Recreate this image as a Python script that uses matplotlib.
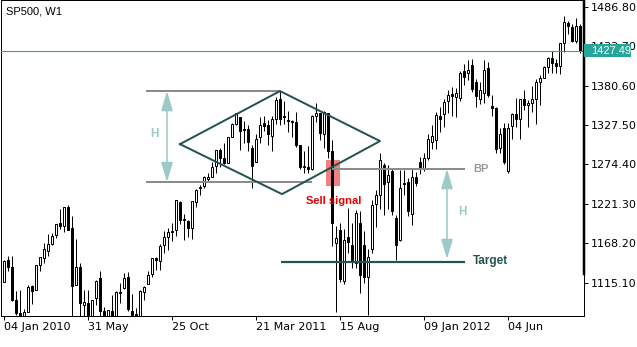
import matplotlib
matplotlib.use('Agg')
import matplotlib.pyplot as plt
import matplotlib.transforms as mtransforms
from matplotlib.patches import Rectangle
from matplotlib.patches import ArrowStyle
import numpy as np

# ---------------- data (weekly SP500 candles, 04 Jan 2010 .. 08 Oct 2012) ----------------
opens = [
    1116.6, 1146.0, 1136.0, 1092.4, 1073.9, 1065.5, 1076.0, 1110.0, 1105.4, 1138.4,
    1148.5, 1157.3, 1167.7, 1178.7, 1194.9, 1192.1, 1217.1, 1188.6, 1111.5, 1136.5,
    1084.8, 1087.3, 1065.8, 1095.0, 1121.3, 1077.5, 1028.1, 1077.2, 1066.9, 1102.9,
    1107.5, 1122.8, 1077.5, 1073.4, 1062.9, 1102.6, 1113.4, 1126.6, 1148.6, 1145.0,
    1165.3, 1176.8, 1184.7, 1185.7, 1223.2, 1200.4, 1198.1, 1189.1, 1223.9, 1242.5,
    1245.8, 1254.7, 1257.6, 1272.0, 1293.2, 1283.3, 1276.5, 1311.9, 1328.7, 1338.9,
    1321.6, 1322.7, 1297.0, 1277.0, 1311.0, 1330.0, 1327.0, 1312.0, 1335.0, 1363.0,
    1340.2, 1334.8, 1333.1, 1331.1, 1300.3, 1271.3, 1271.5, 1268.4, 1339.6, 1343.3,
    1315.9, 1344.3, 1292.6, 1169.0, 1186.0, 1117.0, 1176.0, 1166.0, 1142.0, 1196.0,
    1166.0, 1123.0, 1161.0, 1221.0, 1233.0, 1274.0, 1251.0, 1266.0, 1202.0, 1173.0,
    1250.0, 1251.0, 1208.0, 1258.0, 1278.0, 1268.0, 1283.0, 1305.0, 1307.0, 1339.0,
    1342.0, 1360.0, 1369.0, 1365.0, 1364.0, 1400.0, 1397.0, 1408.0, 1386.0, 1363.0,
    1371.0, 1404.0, 1353.0, 1350.0, 1296.0, 1324.0, 1265.0, 1325.7, 1342.4, 1334.9,
    1362.3, 1354.7, 1356.5, 1362.3, 1385.9, 1391.0, 1405.9, 1417.9, 1411.1, 1406.5,
    1437.9, 1465.4, 1459.8, 1440.9, 1460.9]
highs = [
    1145.4, 1150.5, 1150.4, 1103.7, 1104.7, 1080.0, 1112.4, 1112.3, 1139.4, 1150.2,
    1169.2, 1180.2, 1181.4, 1194.7, 1213.9, 1217.3, 1219.8, 1205.1, 1173.6, 1141.9,
    1105.0, 1105.7, 1092.2, 1119.3, 1131.2, 1082.6, 1078.2, 1099.1, 1103.7, 1115.0,
    1128.8, 1129.2, 1100.1, 1081.6, 1105.1, 1110.9, 1131.5, 1148.9, 1149.9, 1167.7,
    1184.4, 1189.4, 1196.1, 1227.1, 1225.8, 1207.4, 1198.9, 1225.6, 1241.0, 1246.7,
    1259.4, 1262.6, 1278.2, 1293.2, 1296.1, 1302.7, 1311.0, 1330.8, 1344.1, 1338.9,
    1332.3, 1327.7, 1301.2, 1315.8, 1337.9, 1339.5, 1333.8, 1339.4, 1364.6, 1373.0,
    1359.4, 1346.8, 1334.6, 1345.2, 1300.3, 1292.5, 1298.6, 1341.0, 1356.5, 1343.3,
    1347.0, 1344.3, 1307.4, 1191.0, 1195.0, 1188.0, 1216.0, 1195.0, 1213.0, 1211.0,
    1185.0, 1160.0, 1226.0, 1240.0, 1290.0, 1276.0, 1274.0, 1268.0, 1206.0, 1267.0,
    1267.0, 1256.0, 1269.0, 1264.0, 1285.0, 1290.0, 1316.0, 1327.0, 1345.0, 1352.0,
    1363.0, 1375.0, 1378.0, 1377.0, 1400.0, 1410.0, 1415.0, 1417.0, 1390.0, 1385.0,
    1415.0, 1413.0, 1368.0, 1352.0, 1324.0, 1330.0, 1330.0, 1343.3, 1363.5, 1362.2,
    1374.8, 1361.5, 1380.4, 1389.2, 1394.2, 1407.1, 1418.7, 1426.7, 1416.2, 1437.9,
    1474.5, 1467.1, 1463.2, 1471.0, 1464.0]
lows = [
    1116.6, 1131.4, 1090.2, 1071.6, 1044.5, 1056.5, 1076.0, 1086.0, 1105.4, 1131.1,
    1141.1, 1150.5, 1165.8, 1175.1, 1186.8, 1183.7, 1185.5, 1065.8, 1111.5, 1055.9,
    1040.8, 1060.5, 1042.2, 1084.8, 1067.9, 1010.9, 1018.4, 1063.3, 1056.9, 1088.0,
    1107.2, 1076.6, 1070.0, 1039.7, 1040.9, 1091.2, 1113.4, 1122.8, 1131.9, 1131.9,
    1155.7, 1159.7, 1171.7, 1177.7, 1194.1, 1173.0, 1176.9, 1173.6, 1217.4, 1232.9,
    1243.0, 1251.5, 1257.6, 1262.2, 1271.3, 1275.1, 1276.5, 1311.7, 1326.9, 1294.3,
    1302.6, 1292.0, 1243.0, 1277.0, 1303.0, 1320.0, 1300.0, 1292.0, 1329.0, 1327.0,
    1329.0, 1318.5, 1311.8, 1297.9, 1268.5, 1262.7, 1262.9, 1267.5, 1330.9, 1307.1,
    1295.9, 1282.9, 1164.0, 1076.0, 1116.0, 1113.0, 1155.0, 1135.0, 1135.0, 1101.0,
    1115.0, 1071.0, 1155.0, 1190.0, 1215.0, 1206.0, 1215.0, 1206.0, 1146.0, 1171.0,
    1233.0, 1205.0, 1193.0, 1245.0, 1262.0, 1266.0, 1281.0, 1295.0, 1295.0, 1318.0,
    1325.0, 1343.0, 1339.0, 1338.0, 1360.0, 1382.0, 1388.0, 1372.0, 1352.0, 1356.0,
    1357.0, 1365.0, 1340.0, 1290.0, 1290.0, 1275.0, 1263.0, 1308.0, 1324.4, 1309.3,
    1348.0, 1325.4, 1345.1, 1329.2, 1354.7, 1391.0, 1397.3, 1398.0, 1397.0, 1396.6,
    1425.5, 1450.0, 1439.9, 1438.1, 1425.0]
closes = [
    1145.0, 1136.0, 1091.8, 1073.9, 1066.2, 1075.5, 1109.2, 1104.5, 1138.7, 1150.0,
    1159.9, 1166.6, 1178.1, 1194.4, 1192.1, 1217.3, 1186.7, 1110.9, 1135.7, 1087.7,
    1089.4, 1064.9, 1091.6, 1117.5, 1076.8, 1022.6, 1078.0, 1064.9, 1102.7, 1101.6,
    1121.6, 1079.3, 1071.7, 1064.6, 1104.5, 1109.6, 1125.6, 1148.7, 1146.2, 1165.2,
    1176.2, 1183.1, 1183.3, 1225.9, 1199.2, 1199.7, 1189.4, 1224.7, 1240.4, 1243.9,
    1256.8, 1257.6, 1271.5, 1293.2, 1283.4, 1276.3, 1310.9, 1329.2, 1343.0, 1319.9,
    1321.2, 1304.3, 1272.0, 1308.0, 1328.0, 1326.0, 1315.0, 1335.0, 1361.0, 1336.0,
    1337.8, 1333.3, 1331.1, 1300.2, 1271.0, 1271.5, 1268.5, 1339.7, 1343.8, 1316.1,
    1345.0, 1292.3, 1196.0, 1175.0, 1120.0, 1173.0, 1170.0, 1146.0, 1209.0, 1125.0,
    1123.0, 1150.0, 1220.0, 1233.0, 1280.0, 1248.0, 1260.0, 1212.0, 1166.0, 1242.0,
    1248.0, 1211.0, 1258.0, 1250.0, 1271.0, 1283.0, 1309.0, 1313.0, 1341.0, 1336.0,
    1359.0, 1368.0, 1366.0, 1370.0, 1397.0, 1392.0, 1402.0, 1376.0, 1366.0, 1375.0,
    1402.0, 1368.0, 1351.0, 1295.0, 1316.0, 1278.0, 1324.0, 1342.8, 1335.0, 1362.2,
    1354.7, 1356.8, 1362.7, 1386.0, 1391.0, 1405.9, 1418.2, 1411.1, 1406.6, 1437.9,
    1465.8, 1460.2, 1440.7, 1460.9, 1427.5]

xtick_pos = [0, 21, 42, 63, 84, 105, 126]
xtick_labels = ["04 Jan 2010", "31 May", "25 Oct", "21 Mar 2011", "15 Aug", "09 Jan 2012", "04 Jun"]
ytick_vals = [1115.10, 1168.20, 1221.30, 1274.40, 1327.50, 1380.60, 1433.70, 1486.80]
last_price = 1427.49

# diamond pattern annotation (bar index, price)
diamond_x = [44, 69, 94, 69.5, 44]
diamond_y = [1301.7, 1373.2, 1305.8, 1234.4, 1301.7]
top_level = 1373.2
bottom_level = 1250.7
bp_level = 1268.2
target_level = 1143.0
signal_bar = 82

# ---------------- figure ----------------
W, H = 637, 347
fig = plt.figure(figsize=(W / 100, H / 100), dpi=100)
x_left, x_right = 0.5, 583.7
y_top, y_bot = 0.5, 316.3
ax = fig.add_axes([x_left / W, (H - y_bot) / H, (x_right - x_left) / W, (y_bot - y_top) / H])

px = 0.72  # one pixel in points
plt.rcParams['font.family'] = ['Liberation Sans', 'DejaVu Sans']

n = len(opens)
idx = np.arange(n)
o = np.array(opens); h = np.array(highs); l = np.array(lows); c = np.array(closes)

# red "sell signal" rectangle (behind candles)
ax.add_patch(Rectangle((signal_bar - 1.5, 1245.6), 3.5, 1280.2 - 1245.6,
                       facecolor='#f08080', edgecolor='none', zorder=1))

# candles
ax.vlines(idx, l, h, color='black', linewidth=px, zorder=2)
up = c >= o
body_bottom = np.minimum(o, c)
body_h = np.maximum(np.abs(c - o), 0.6)
ax.bar(idx[up], body_h[up], bottom=body_bottom[up], width=0.62,
       facecolor='white', edgecolor='black', linewidth=px, zorder=3)
ax.bar(idx[~up], body_h[~up], bottom=body_bottom[~up], width=0.62,
       facecolor='black', edgecolor='black', linewidth=px, zorder=3)

# bid line
ax.axhline(last_price, color='#2fa39a', linewidth=1.1 * px, zorder=4)

# pattern lines
gray = '#8c8c8c'
dark = '#245452'
light = '#9ccbc7'
ax.plot([35.5, 69], [top_level, top_level], color=gray, lw=2 * px, zorder=4, solid_capstyle='butt')
ax.plot([35.5, 77], [bottom_level, bottom_level], color=gray, lw=2 * px, zorder=4, solid_capstyle='butt')
ax.plot([signal_bar, 115.25], [bp_level, bp_level], color=gray, lw=2 * px, zorder=4, solid_capstyle='butt')
ax.plot(diamond_x, diamond_y, color=dark, lw=2 * px, zorder=5)
ax.plot([69.25, 115.25], [target_level, target_level], color=dark, lw=2.2 * px, zorder=5,
        solid_capstyle='butt')

astyle = ArrowStyle('<|-|>', head_length=1.0, head_width=0.3)
ax.annotate('', xy=(40.75, bottom_level), xytext=(40.75, top_level),
            arrowprops=dict(arrowstyle=astyle, color=light, lw=1.6 * px,
                            mutation_scale=12, shrinkA=0, shrinkB=0), zorder=5)
ax.annotate('', xy=(110.75, 1147.0), xytext=(110.75, bp_level),
            arrowprops=dict(arrowstyle=astyle, color=light, lw=1.6 * px,
                            mutation_scale=12, shrinkA=0, shrinkB=0), zorder=5)
ax.text(37.6, 1315.4, 'H', color=light, fontsize=8.5, fontweight='bold', ha='center', va='center', zorder=6)
ax.text(114.5, 1210.7, 'H', color=light, fontsize=8.5, fontweight='bold', ha='center', va='center', zorder=6)
ax.text(117.3, bp_level, 'BP', color='#999999', fontsize=8, fontweight='bold', ha='left', va='center', zorder=6)
ax.text(117.3, target_level + 1.5, 'Target', color=dark, fontsize=8.5, fontweight='bold', ha='left',
        va='center', zorder=6)
ax.text(82.3, 1225.1, 'Sell signal', color='#e60000', fontsize=8, fontweight='bold', ha='center',
        va='center', zorder=6)

# axes limits
ax.set_xlim((x_left - 4) / 4, (x_right - 4) / 4)
p_per_px = 1.3467
ax.set_ylim(1486.8 - (y_bot - 6.7) * p_per_px, 1486.8 + (6.7 - y_top) * p_per_px)

# ticks
ax.yaxis.tick_right()
ax.set_yticks(ytick_vals)
ax.set_yticklabels(['%.2f' % v for v in ytick_vals])
ax.set_xticks(xtick_pos)
ax.set_xticklabels(xtick_labels)
for lab in ax.get_xticklabels():
    lab.set_horizontalalignment('left')
ax.tick_params(axis='both', direction='out', length=4 * px, width=px, labelsize=8, colors='black')
ax.tick_params(axis='y', pad=3 * px)
ax.tick_params(axis='x', pad=2 * px)
for s in ax.spines.values():
    s.set_linewidth(px)
    s.set_color('black')

# current price label box on the right axis
blend = mtransforms.blended_transform_factory(ax.transAxes, ax.transData)
box_w = 47 / (x_right - x_left)
ax.add_patch(Rectangle((1.0, last_price - 6.5 * p_per_px), box_w, 13 * p_per_px, transform=blend,
                       facecolor='#26a69a', edgecolor='none', clip_on=False, zorder=7))
ax.text(1.0 + 7.5 / (x_right - x_left), last_price, '%.2f' % last_price, transform=blend, color='white',
        fontsize=8, ha='left', va='center', clip_on=False, zorder=8)
# thicker part of right frame
ax.plot([1.0, 1.0], [1127.0, 1500], transform=blend, color='black', lw=2.5 * px, clip_on=False, zorder=6)

fig.text(6 / W, 1 - 12 / H, 'SP500, W1', fontsize=8, ha='left', va='center', color='black')

fig.savefig('out.png', dpi=100)
